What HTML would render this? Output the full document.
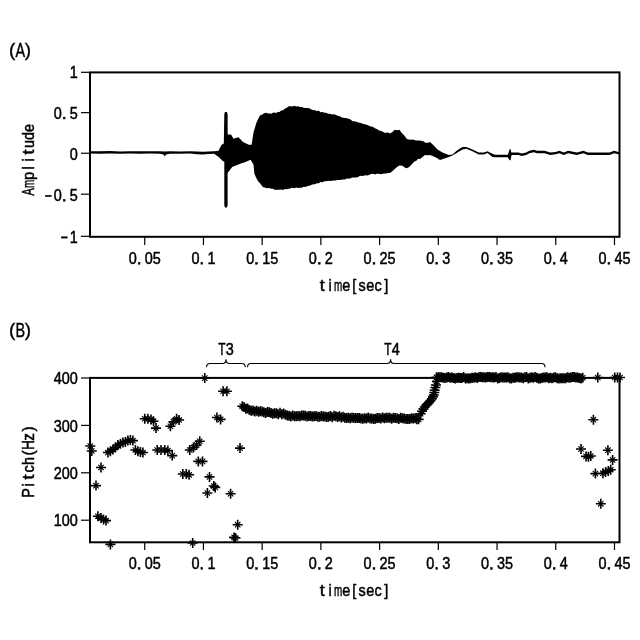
<!DOCTYPE html><html><head><meta charset="utf-8"><style>html,body{margin:0;padding:0;background:#fff;}svg{display:block;will-change:transform;}text{font-family:"Liberation Sans",sans-serif;fill:#000;}</style></head><body>
<svg width="640" height="640" viewBox="0 0 640 640">
<rect width="640" height="640" fill="#fff"/>
<g font-size="20" stroke="#000" stroke-width="0.4"><text transform="translate(12.2,55.699999999999996) scale(0.95,0.92)" text-anchor="middle">(</text><text transform="translate(20.4,57.3) scale(0.72,1.03)" text-anchor="middle">A</text><text transform="translate(27.8,55.699999999999996) scale(0.95,0.92)" text-anchor="middle">)</text></g>
<g font-size="20" stroke="#000" stroke-width="0.4"><text transform="translate(12.2,335.7) scale(0.95,0.92)" text-anchor="middle">(</text><text transform="translate(20.4,337.3) scale(0.72,1.03)" text-anchor="middle">B</text><text transform="translate(27.8,335.7) scale(0.95,0.92)" text-anchor="middle">)</text></g>
<rect x="90.0" y="72.4" width="529.5" height="164.4" fill="none" stroke="#000" stroke-width="2"/>
<polygon fill="#000" points="89.50,151.20 100.00,151.30 110.00,151.10 120.00,151.40 130.00,151.20 140.00,151.30 150.00,151.20 160.00,151.30 164.70,151.60 170.00,151.30 180.00,151.40 190.00,151.20 197.00,151.60 203.00,151.80 208.00,151.40 214.00,151.30 218.50,150.80 221.60,144.70 223.80,143.50 224.30,114.50 224.90,112.00 226.90,112.00 227.60,114.50 227.70,134.40 231.00,134.40 233.75,139.00 235.50,138.00 238.50,137.20 243.00,141.90 248.75,144.70 251.60,144.70 253.50,132.50 256.30,123.00 258.15,118.99 260.00,115.60 261.87,114.72 263.73,113.58 265.60,112.80 267.48,113.24 269.37,113.58 271.25,113.75 272.88,112.86 274.51,112.43 276.14,113.04 277.77,111.98 279.40,111.90 281.27,110.45 283.14,110.23 285.01,108.47 286.88,107.78 288.75,106.25 290.62,106.22 292.49,106.42 294.36,105.83 296.23,106.41 298.10,106.25 299.98,107.06 301.86,107.02 303.74,107.65 305.62,107.94 307.50,108.10 309.38,108.16 311.26,109.57 313.14,109.95 315.02,110.18 316.90,111.00 318.77,110.80 320.64,112.16 322.51,112.05 324.38,112.70 326.25,112.80 328.12,113.63 329.99,113.82 331.86,114.45 333.73,114.19 335.60,114.70 337.48,115.72 339.36,115.95 341.24,117.20 343.12,117.79 345.00,118.00 346.88,118.17 348.76,118.86 350.64,119.61 352.52,121.16 354.40,121.25 356.27,121.74 358.14,122.54 360.01,122.72 361.88,123.54 363.75,124.10 365.62,124.52 367.49,125.04 369.36,125.88 371.23,126.44 373.10,126.90 374.98,128.33 376.86,129.00 378.74,130.23 380.62,131.09 382.50,131.60 384.38,132.66 386.25,132.76 388.12,132.62 390.00,133.50 392.35,132.03 394.70,129.70 397.05,130.26 399.40,129.70 401.75,132.99 404.10,135.30 406.90,139.10 408.77,139.41 410.65,139.81 412.52,139.43 414.40,140.00 416.27,140.60 418.13,140.49 420.00,140.60 421.67,140.98 423.33,141.34 425.00,142.50 426.67,142.72 428.33,142.69 430.00,141.90 433.75,145.60 437.50,149.40 442.50,152.50 448.75,155.00 452.50,154.40 457.50,150.00 462.50,146.90 466.25,146.90 472.50,149.40 478.75,152.50 483.75,152.50 487.50,151.25 492.50,153.75 495.00,154.70 507.80,154.70 508.80,152.00 509.60,149.30 510.60,149.30 511.30,152.60 512.00,152.50 518.40,152.50 521.70,153.60 526.10,152.50 529.40,150.80 533.80,149.80 537.00,150.80 544.70,150.80 550.20,152.50 555.60,151.90 559.40,150.80 563.75,152.50 568.10,150.80 576.90,152.50 583.40,150.80 587.80,152.50 609.70,152.50 614.00,150.80 618.50,151.90 619.00,151.90 619.00,154.30 618.50,154.30 614.00,153.20 609.70,154.90 587.80,154.90 583.40,153.20 576.90,154.90 568.10,153.20 563.75,154.90 559.40,153.20 555.60,154.30 550.20,154.90 544.70,153.20 537.00,153.20 533.80,152.20 529.40,153.20 526.10,154.90 521.70,156.00 518.40,154.90 512.00,154.90 511.30,156.00 510.60,160.20 509.60,160.20 508.80,159.00 507.80,157.20 495.00,157.20 492.50,156.90 487.50,153.10 483.75,154.40 478.75,154.40 472.50,151.25 466.25,148.75 462.50,149.40 457.50,152.50 452.50,155.60 448.75,156.90 443.75,158.75 440.00,160.00 435.00,156.90 430.00,155.00 428.33,155.16 426.67,155.22 425.00,155.00 423.33,156.22 421.67,157.72 420.00,159.00 418.20,158.80 416.32,160.75 414.45,161.54 412.57,163.54 410.70,165.40 408.80,167.33 406.90,168.20 405.05,167.82 403.20,166.30 401.30,165.56 399.40,165.40 397.05,167.00 394.70,169.10 392.35,171.18 390.00,172.90 388.12,172.91 386.25,173.39 384.38,173.42 382.50,173.80 380.62,174.33 378.74,173.64 376.86,173.66 374.98,174.38 373.10,173.80 371.23,174.08 369.36,174.66 367.49,175.53 365.62,175.26 363.75,175.70 361.88,176.03 360.01,175.85 358.14,177.02 356.27,177.45 354.40,177.50 352.52,177.62 350.64,178.34 348.76,178.63 346.88,178.49 345.00,179.40 343.12,179.46 341.24,179.73 339.36,179.89 337.48,180.03 335.60,180.40 333.73,180.56 331.86,180.81 329.99,181.09 328.12,180.64 326.25,181.30 324.38,181.13 322.51,182.28 320.64,182.00 318.77,183.37 316.90,183.20 315.02,184.17 313.14,184.19 311.26,184.99 309.38,185.80 307.50,186.00 305.62,186.94 303.74,186.64 301.86,187.65 299.98,187.75 298.10,187.90 296.23,187.48 294.36,188.25 292.49,187.86 290.62,188.16 288.75,188.80 286.88,189.19 285.01,188.92 283.14,189.92 281.27,189.42 279.40,189.75 276.90,189.75 275.02,189.98 273.13,188.67 271.25,188.80 269.56,188.10 267.87,188.29 266.18,188.08 264.49,187.39 262.80,186.90 260.45,183.74 258.10,181.30 256.25,178.04 254.40,173.80 253.50,164.40 250.60,159.70 244.20,162.60 240.80,163.40 236.50,165.20 232.20,166.90 227.60,172.90 227.60,205.50 226.90,207.50 225.00,207.50 224.30,205.50 224.30,161.70 222.50,160.70 218.75,156.90 214.00,153.80 208.00,154.00 203.00,154.60 197.00,154.20 190.00,153.60 180.00,153.80 170.00,153.70 166.00,154.40 164.70,156.40 163.50,154.50 160.00,153.80 150.00,153.60 140.00,153.70 130.00,153.60 120.00,153.80 110.00,153.50 100.00,153.70 89.50,153.60"/>
<line x1="81" y1="72.3" x2="89" y2="72.3" stroke="#000" stroke-width="1.2"/>
<g font-size="17" stroke="#000" stroke-width="0.5"><text transform="translate(73.80,77.8) scale(0.85,1)" text-anchor="middle">1</text></g>
<line x1="81" y1="112.65" x2="89" y2="112.65" stroke="#000" stroke-width="1.2"/>
<g font-size="17" stroke="#000" stroke-width="0.5"><text transform="translate(57.80,118.95) scale(0.85,1)" text-anchor="middle">0</text><rect x="63.30" y="117.15" width="1.8" height="1.8" fill="#000"/><text transform="translate(73.80,118.95) scale(0.85,1)" text-anchor="middle">5</text></g>
<line x1="81" y1="153.25" x2="89" y2="153.25" stroke="#000" stroke-width="1.2"/>
<g font-size="17" stroke="#000" stroke-width="0.5"><text transform="translate(73.80,160.35) scale(0.85,1)" text-anchor="middle">0</text></g>
<line x1="81" y1="194.2" x2="89" y2="194.2" stroke="#000" stroke-width="1.2"/>
<g font-size="17" stroke="#000" stroke-width="0.5"><rect x="45.50" y="195.30" width="5.8" height="1.3" fill="#000"/><text transform="translate(57.80,201.2) scale(0.85,1)" text-anchor="middle">0</text><rect x="63.30" y="199.40" width="1.8" height="1.8" fill="#000"/><text transform="translate(73.80,201.2) scale(0.85,1)" text-anchor="middle">5</text></g>
<line x1="81" y1="236.3" x2="89" y2="236.3" stroke="#000" stroke-width="1.2"/>
<g font-size="17" stroke="#000" stroke-width="0.5"><rect x="61.50" y="236.80" width="5.8" height="1.3" fill="#000"/><text transform="translate(73.80,242.7) scale(0.85,1)" text-anchor="middle">1</text></g>
<line x1="144.72" y1="236.8" x2="144.72" y2="245" stroke="#000" stroke-width="1.2"/>
<g font-size="17" stroke="#000" stroke-width="0.5"><text transform="translate(132.72,264.2) scale(0.85,1)" text-anchor="middle">0</text><rect x="138.22" y="262.40" width="1.8" height="1.8" fill="#000"/><text transform="translate(148.72,264.2) scale(0.85,1)" text-anchor="middle">0</text><text transform="translate(156.72,264.2) scale(0.85,1)" text-anchor="middle">5</text></g>
<line x1="203.44" y1="236.8" x2="203.44" y2="245" stroke="#000" stroke-width="1.2"/>
<g font-size="17" stroke="#000" stroke-width="0.5"><text transform="translate(195.44,264.2) scale(0.85,1)" text-anchor="middle">0</text><rect x="200.94" y="262.40" width="1.8" height="1.8" fill="#000"/><text transform="translate(211.44,264.2) scale(0.85,1)" text-anchor="middle">1</text></g>
<line x1="262.16" y1="236.8" x2="262.16" y2="245" stroke="#000" stroke-width="1.2"/>
<g font-size="17" stroke="#000" stroke-width="0.5"><text transform="translate(250.16,264.2) scale(0.85,1)" text-anchor="middle">0</text><rect x="255.66" y="262.40" width="1.8" height="1.8" fill="#000"/><text transform="translate(266.16,264.2) scale(0.85,1)" text-anchor="middle">1</text><text transform="translate(274.16,264.2) scale(0.85,1)" text-anchor="middle">5</text></g>
<line x1="320.88" y1="236.8" x2="320.88" y2="245" stroke="#000" stroke-width="1.2"/>
<g font-size="17" stroke="#000" stroke-width="0.5"><text transform="translate(312.88,264.2) scale(0.85,1)" text-anchor="middle">0</text><rect x="318.38" y="262.40" width="1.8" height="1.8" fill="#000"/><text transform="translate(328.88,264.2) scale(0.85,1)" text-anchor="middle">2</text></g>
<line x1="379.60" y1="236.8" x2="379.60" y2="245" stroke="#000" stroke-width="1.2"/>
<g font-size="17" stroke="#000" stroke-width="0.5"><text transform="translate(367.60,264.2) scale(0.85,1)" text-anchor="middle">0</text><rect x="373.10" y="262.40" width="1.8" height="1.8" fill="#000"/><text transform="translate(383.60,264.2) scale(0.85,1)" text-anchor="middle">2</text><text transform="translate(391.60,264.2) scale(0.85,1)" text-anchor="middle">5</text></g>
<line x1="438.32" y1="236.8" x2="438.32" y2="245" stroke="#000" stroke-width="1.2"/>
<g font-size="17" stroke="#000" stroke-width="0.5"><text transform="translate(430.32,264.2) scale(0.85,1)" text-anchor="middle">0</text><rect x="435.82" y="262.40" width="1.8" height="1.8" fill="#000"/><text transform="translate(446.32,264.2) scale(0.85,1)" text-anchor="middle">3</text></g>
<line x1="497.04" y1="236.8" x2="497.04" y2="245" stroke="#000" stroke-width="1.2"/>
<g font-size="17" stroke="#000" stroke-width="0.5"><text transform="translate(485.04,264.2) scale(0.85,1)" text-anchor="middle">0</text><rect x="490.54" y="262.40" width="1.8" height="1.8" fill="#000"/><text transform="translate(501.04,264.2) scale(0.85,1)" text-anchor="middle">3</text><text transform="translate(509.04,264.2) scale(0.85,1)" text-anchor="middle">5</text></g>
<line x1="555.76" y1="236.8" x2="555.76" y2="245" stroke="#000" stroke-width="1.2"/>
<g font-size="17" stroke="#000" stroke-width="0.5"><text transform="translate(547.76,264.2) scale(0.85,1)" text-anchor="middle">0</text><rect x="553.26" y="262.40" width="1.8" height="1.8" fill="#000"/><text transform="translate(563.76,264.2) scale(0.85,1)" text-anchor="middle">4</text></g>
<line x1="614.48" y1="236.8" x2="614.48" y2="245" stroke="#000" stroke-width="1.2"/>
<g font-size="17" stroke="#000" stroke-width="0.5"><text transform="translate(602.48,264.2) scale(0.85,1)" text-anchor="middle">0</text><rect x="607.98" y="262.40" width="1.8" height="1.8" fill="#000"/><text transform="translate(618.48,264.2) scale(0.85,1)" text-anchor="middle">4</text><text transform="translate(626.48,264.2) scale(0.85,1)" text-anchor="middle">5</text></g>
<g font-size="17" stroke="#000" stroke-width="0.5"><text transform="translate(322.20,290.5) scale(1.05,1)" text-anchor="middle">t</text><text transform="translate(330.20,290.5) scale(0.85,1)" text-anchor="middle">i</text><text transform="translate(338.20,290.5) scale(0.58,1)" text-anchor="middle">m</text><text transform="translate(346.20,290.5) scale(0.85,1)" text-anchor="middle">e</text><text transform="translate(354.20,290.5) scale(0.85,1)" text-anchor="middle">[</text><text transform="translate(362.20,290.5) scale(0.85,1)" text-anchor="middle">s</text><text transform="translate(370.20,290.5) scale(0.85,1)" text-anchor="middle">e</text><text transform="translate(378.20,290.5) scale(0.85,1)" text-anchor="middle">c</text><text transform="translate(386.20,290.5) scale(0.85,1)" text-anchor="middle">]</text></g>
<g transform="translate(33.5,160) rotate(-90)"><g font-size="17" stroke="#000" stroke-width="0.5"><text transform="translate(-32.00,0) scale(0.64,1)" text-anchor="middle">A</text><text transform="translate(-24.00,0) scale(0.58,1)" text-anchor="middle">m</text><text transform="translate(-16.00,0) scale(0.85,1)" text-anchor="middle">p</text><text transform="translate(-8.00,0) scale(0.85,1)" text-anchor="middle">l</text><text transform="translate(0.00,0) scale(0.85,1)" text-anchor="middle">i</text><text transform="translate(8.00,0) scale(1.05,1)" text-anchor="middle">t</text><text transform="translate(16.00,0) scale(0.85,1)" text-anchor="middle">u</text><text transform="translate(24.00,0) scale(0.85,1)" text-anchor="middle">d</text><text transform="translate(32.00,0) scale(0.85,1)" text-anchor="middle">e</text></g></g>
<rect x="90.0" y="377.9" width="529.5" height="164.39999999999998" fill="none" stroke="#000" stroke-width="2"/>
<line x1="81" y1="378.0" x2="89" y2="378.0" stroke="#000" stroke-width="1.2"/>
<g font-size="17" stroke="#000" stroke-width="0.5"><text transform="translate(57.80,384.2) scale(0.85,1)" text-anchor="middle">4</text><text transform="translate(65.80,384.2) scale(0.85,1)" text-anchor="middle">0</text><text transform="translate(73.80,384.2) scale(0.85,1)" text-anchor="middle">0</text></g>
<line x1="81" y1="425.4" x2="89" y2="425.4" stroke="#000" stroke-width="1.2"/>
<g font-size="17" stroke="#000" stroke-width="0.5"><text transform="translate(57.80,431.59999999999997) scale(0.85,1)" text-anchor="middle">3</text><text transform="translate(65.80,431.59999999999997) scale(0.85,1)" text-anchor="middle">0</text><text transform="translate(73.80,431.59999999999997) scale(0.85,1)" text-anchor="middle">0</text></g>
<line x1="81" y1="472.8" x2="89" y2="472.8" stroke="#000" stroke-width="1.2"/>
<g font-size="17" stroke="#000" stroke-width="0.5"><text transform="translate(57.80,479.0) scale(0.85,1)" text-anchor="middle">2</text><text transform="translate(65.80,479.0) scale(0.85,1)" text-anchor="middle">0</text><text transform="translate(73.80,479.0) scale(0.85,1)" text-anchor="middle">0</text></g>
<line x1="81" y1="520.2" x2="89" y2="520.2" stroke="#000" stroke-width="1.2"/>
<g font-size="17" stroke="#000" stroke-width="0.5"><text transform="translate(57.80,526.4000000000001) scale(0.85,1)" text-anchor="middle">1</text><text transform="translate(65.80,526.4000000000001) scale(0.85,1)" text-anchor="middle">0</text><text transform="translate(73.80,526.4000000000001) scale(0.85,1)" text-anchor="middle">0</text></g>
<line x1="144.72" y1="542.3" x2="144.72" y2="550" stroke="#000" stroke-width="1.2"/>
<g font-size="17" stroke="#000" stroke-width="0.5"><text transform="translate(132.72,569.4) scale(0.85,1)" text-anchor="middle">0</text><rect x="138.22" y="567.60" width="1.8" height="1.8" fill="#000"/><text transform="translate(148.72,569.4) scale(0.85,1)" text-anchor="middle">0</text><text transform="translate(156.72,569.4) scale(0.85,1)" text-anchor="middle">5</text></g>
<line x1="203.44" y1="542.3" x2="203.44" y2="550" stroke="#000" stroke-width="1.2"/>
<g font-size="17" stroke="#000" stroke-width="0.5"><text transform="translate(195.44,569.4) scale(0.85,1)" text-anchor="middle">0</text><rect x="200.94" y="567.60" width="1.8" height="1.8" fill="#000"/><text transform="translate(211.44,569.4) scale(0.85,1)" text-anchor="middle">1</text></g>
<line x1="262.16" y1="542.3" x2="262.16" y2="550" stroke="#000" stroke-width="1.2"/>
<g font-size="17" stroke="#000" stroke-width="0.5"><text transform="translate(250.16,569.4) scale(0.85,1)" text-anchor="middle">0</text><rect x="255.66" y="567.60" width="1.8" height="1.8" fill="#000"/><text transform="translate(266.16,569.4) scale(0.85,1)" text-anchor="middle">1</text><text transform="translate(274.16,569.4) scale(0.85,1)" text-anchor="middle">5</text></g>
<line x1="320.88" y1="542.3" x2="320.88" y2="550" stroke="#000" stroke-width="1.2"/>
<g font-size="17" stroke="#000" stroke-width="0.5"><text transform="translate(312.88,569.4) scale(0.85,1)" text-anchor="middle">0</text><rect x="318.38" y="567.60" width="1.8" height="1.8" fill="#000"/><text transform="translate(328.88,569.4) scale(0.85,1)" text-anchor="middle">2</text></g>
<line x1="379.60" y1="542.3" x2="379.60" y2="550" stroke="#000" stroke-width="1.2"/>
<g font-size="17" stroke="#000" stroke-width="0.5"><text transform="translate(367.60,569.4) scale(0.85,1)" text-anchor="middle">0</text><rect x="373.10" y="567.60" width="1.8" height="1.8" fill="#000"/><text transform="translate(383.60,569.4) scale(0.85,1)" text-anchor="middle">2</text><text transform="translate(391.60,569.4) scale(0.85,1)" text-anchor="middle">5</text></g>
<line x1="438.32" y1="542.3" x2="438.32" y2="550" stroke="#000" stroke-width="1.2"/>
<g font-size="17" stroke="#000" stroke-width="0.5"><text transform="translate(430.32,569.4) scale(0.85,1)" text-anchor="middle">0</text><rect x="435.82" y="567.60" width="1.8" height="1.8" fill="#000"/><text transform="translate(446.32,569.4) scale(0.85,1)" text-anchor="middle">3</text></g>
<line x1="497.04" y1="542.3" x2="497.04" y2="550" stroke="#000" stroke-width="1.2"/>
<g font-size="17" stroke="#000" stroke-width="0.5"><text transform="translate(485.04,569.4) scale(0.85,1)" text-anchor="middle">0</text><rect x="490.54" y="567.60" width="1.8" height="1.8" fill="#000"/><text transform="translate(501.04,569.4) scale(0.85,1)" text-anchor="middle">3</text><text transform="translate(509.04,569.4) scale(0.85,1)" text-anchor="middle">5</text></g>
<line x1="555.76" y1="542.3" x2="555.76" y2="550" stroke="#000" stroke-width="1.2"/>
<g font-size="17" stroke="#000" stroke-width="0.5"><text transform="translate(547.76,569.4) scale(0.85,1)" text-anchor="middle">0</text><rect x="553.26" y="567.60" width="1.8" height="1.8" fill="#000"/><text transform="translate(563.76,569.4) scale(0.85,1)" text-anchor="middle">4</text></g>
<line x1="614.48" y1="542.3" x2="614.48" y2="550" stroke="#000" stroke-width="1.2"/>
<g font-size="17" stroke="#000" stroke-width="0.5"><text transform="translate(602.48,569.4) scale(0.85,1)" text-anchor="middle">0</text><rect x="607.98" y="567.60" width="1.8" height="1.8" fill="#000"/><text transform="translate(618.48,569.4) scale(0.85,1)" text-anchor="middle">4</text><text transform="translate(626.48,569.4) scale(0.85,1)" text-anchor="middle">5</text></g>
<g font-size="17" stroke="#000" stroke-width="0.5"><text transform="translate(322.20,595.6) scale(1.05,1)" text-anchor="middle">t</text><text transform="translate(330.20,595.6) scale(0.85,1)" text-anchor="middle">i</text><text transform="translate(338.20,595.6) scale(0.58,1)" text-anchor="middle">m</text><text transform="translate(346.20,595.6) scale(0.85,1)" text-anchor="middle">e</text><text transform="translate(354.20,595.6) scale(0.85,1)" text-anchor="middle">[</text><text transform="translate(362.20,595.6) scale(0.85,1)" text-anchor="middle">s</text><text transform="translate(370.20,595.6) scale(0.85,1)" text-anchor="middle">e</text><text transform="translate(378.20,595.6) scale(0.85,1)" text-anchor="middle">c</text><text transform="translate(386.20,595.6) scale(0.85,1)" text-anchor="middle">]</text></g>
<g transform="translate(33.7,461) rotate(-90)"><g font-size="17" stroke="#000" stroke-width="0.5"><text transform="translate(-32.00,0) scale(0.85,1)" text-anchor="middle">P</text><text transform="translate(-24.00,0) scale(0.85,1)" text-anchor="middle">i</text><text transform="translate(-16.00,0) scale(1.05,1)" text-anchor="middle">t</text><text transform="translate(-8.00,0) scale(0.85,1)" text-anchor="middle">c</text><text transform="translate(0.00,0) scale(0.85,1)" text-anchor="middle">h</text><text transform="translate(8.00,0) scale(0.9,1)" text-anchor="middle">(</text><text transform="translate(16.00,0) scale(0.78,1)" text-anchor="middle">H</text><text transform="translate(24.00,0) scale(0.9,1)" text-anchor="middle">z</text><text transform="translate(32.00,0) scale(0.9,1)" text-anchor="middle">)</text></g></g>
<path d="M85.30 446.00h10.00M90.30 441.00v10.00M86.80 451.00h10.00M91.80 446.00v10.00M96.00 467.50h10.00M101.00 462.50v10.00M91.00 485.60h10.00M96.00 480.60v10.00M92.90 516.25h10.00M97.90 511.25v10.00M96.00 518.10h10.00M101.00 513.10v10.00M98.50 519.40h10.00M103.50 514.40v10.00M101.00 520.60h10.00M106.00 515.60v10.00M105.40 544.40h10.00M110.40 539.40v10.00M102.90 452.50h10.00M107.90 447.50v10.00M105.40 451.25h10.00M110.40 446.25v10.00M107.90 449.40h10.00M112.90 444.40v10.00M110.40 447.50h10.00M115.40 442.50v10.00M112.90 445.00h10.00M117.90 440.00v10.00M115.40 443.75h10.00M120.40 438.75v10.00M117.90 442.50h10.00M122.90 437.50v10.00M120.40 441.90h10.00M125.40 436.90v10.00M122.90 440.60h10.00M127.90 435.60v10.00M125.40 440.00h10.00M130.40 435.00v10.00M127.90 440.60h10.00M132.90 435.60v10.00M130.40 450.00h10.00M135.40 445.00v10.00M132.90 451.25h10.00M137.90 446.25v10.00M135.40 451.90h10.00M140.40 446.90v10.00M137.90 452.50h10.00M142.90 447.50v10.00M139.75 418.75h10.00M144.75 413.75v10.00M142.90 418.75h10.00M147.90 413.75v10.00M146.00 419.40h10.00M151.00 414.40v10.00M148.50 421.25h10.00M153.50 416.25v10.00M151.00 428.10h10.00M156.00 423.10v10.00M152.25 450.00h10.00M157.25 445.00v10.00M156.00 450.00h10.00M161.00 445.00v10.00M159.75 450.00h10.00M164.75 445.00v10.00M162.90 450.60h10.00M167.90 445.60v10.00M167.25 455.60h10.00M172.25 450.60v10.00M165.40 426.25h10.00M170.40 421.25v10.00M168.50 421.90h10.00M173.50 416.90v10.00M171.60 418.75h10.00M176.60 413.75v10.00M174.10 420.00h10.00M179.10 415.00v10.00M177.80 474.00h10.00M182.80 469.00v10.00M181.30 474.00h10.00M186.30 469.00v10.00M184.10 474.80h10.00M189.10 469.80v10.00M184.75 450.00h10.00M189.75 445.00v10.00M188.50 447.50h10.00M193.50 442.50v10.00M191.60 445.00h10.00M196.60 440.00v10.00M194.75 441.25h10.00M199.75 436.25v10.00M193.30 461.40h10.00M198.30 456.40v10.00M197.50 461.40h10.00M202.50 456.40v10.00M199.75 378.10h10.00M204.75 373.10v10.00M204.50 476.90h10.00M209.50 471.90v10.00M208.75 486.00h10.00M213.75 481.00v10.00M210.20 487.40h10.00M215.20 482.40v10.00M202.40 493.00h10.00M207.40 488.00v10.00M211.90 417.50h10.00M216.90 412.50v10.00M215.60 419.40h10.00M220.60 414.40v10.00M218.10 391.25h10.00M223.10 386.25v10.00M221.90 391.25h10.00M226.90 386.25v10.00M225.60 493.75h10.00M230.60 488.75v10.00M232.70 524.70h10.00M237.70 519.70v10.00M229.10 537.40h10.00M234.10 532.40v10.00M230.50 538.00h10.00M235.50 533.00v10.00M187.70 543.00h10.00M192.70 538.00v10.00M235.00 448.10h10.00M240.00 443.10v10.00M415.60 413.75h10.00M420.60 408.75v10.00M417.00 411.20h10.00M422.00 406.20v10.00M418.40 409.00h10.00M423.40 404.00v10.00M419.80 407.00h10.00M424.80 402.00v10.00M421.25 405.30h10.00M426.25 400.30v10.00M422.60 403.80h10.00M427.60 398.80v10.00M424.00 402.50h10.00M429.00 397.50v10.00M425.50 400.70h10.00M430.50 395.70v10.00M426.90 398.75h10.00M431.90 393.75v10.00M428.00 396.80h10.00M433.00 391.80v10.00M428.75 395.00h10.00M433.75 390.00v10.00M429.30 392.50h10.00M434.30 387.50v10.00M429.70 390.30h10.00M434.70 385.30v10.00M430.40 387.50h10.00M435.40 382.50v10.00M431.00 385.00h10.00M436.00 380.00v10.00M432.00 381.40h10.00M437.00 376.40v10.00M592.80 377.50h10.00M597.80 372.50v10.00M609.70 377.50h10.00M614.70 372.50v10.00M612.50 377.50h10.00M617.50 372.50v10.00M615.00 377.50h10.00M620.00 372.50v10.00M576.00 449.00h10.00M581.00 444.00v10.00M581.10 456.40h10.00M586.10 451.40v10.00M583.40 456.80h10.00M588.40 451.80v10.00M585.75 456.00h10.00M590.75 451.00v10.00M602.90 450.20h10.00M607.90 445.20v10.00M607.60 459.90h10.00M612.60 454.90v10.00M590.40 473.60h10.00M595.40 468.60v10.00M597.90 473.20h10.00M602.90 468.20v10.00M600.60 472.00h10.00M605.60 467.00v10.00M603.30 470.90h10.00M608.30 465.90v10.00M605.70 469.70h10.00M610.70 464.70v10.00M595.80 503.80h10.00M600.80 498.80v10.00M588.40 419.70h10.00M593.40 414.70v10.00M237.25 406.32h10.00M242.25 401.32v10.00M239.05 406.95h10.00M244.05 401.95v10.00M240.85 408.67h10.00M245.85 403.67v10.00M242.65 408.55h10.00M247.65 403.55v10.00M244.45 410.10h10.00M249.45 405.10v10.00M246.25 410.63h10.00M251.25 405.63v10.00M248.05 410.46h10.00M253.05 405.46v10.00M249.85 411.39h10.00M254.85 406.39v10.00M251.65 410.84h10.00M256.65 405.84v10.00M253.45 411.68h10.00M258.45 406.68v10.00M255.25 411.31h10.00M260.25 406.31v10.00M257.05 411.55h10.00M262.05 406.55v10.00M258.85 412.22h10.00M263.85 407.22v10.00M260.65 413.01h10.00M265.65 408.01v10.00M262.45 412.03h10.00M267.45 407.03v10.00M264.25 412.33h10.00M269.25 407.33v10.00M266.05 413.11h10.00M271.05 408.11v10.00M267.85 413.77h10.00M272.85 408.77v10.00M269.65 413.32h10.00M274.65 408.32v10.00M271.45 413.16h10.00M276.45 408.16v10.00M273.25 414.21h10.00M278.25 409.21v10.00M275.05 412.84h10.00M280.05 407.84v10.00M276.85 414.26h10.00M281.85 409.26v10.00M278.65 413.57h10.00M283.65 408.57v10.00M280.45 414.66h10.00M285.45 409.66v10.00M282.25 415.40h10.00M287.25 410.40v10.00M284.05 415.72h10.00M289.05 410.72v10.00M285.85 416.55h10.00M290.85 411.55v10.00M287.65 415.55h10.00M292.65 410.55v10.00M289.45 416.21h10.00M294.45 411.21v10.00M291.25 416.32h10.00M296.25 411.32v10.00M293.05 415.91h10.00M298.05 410.91v10.00M294.85 416.20h10.00M299.85 411.20v10.00M296.65 415.45h10.00M301.65 410.45v10.00M298.45 415.46h10.00M303.45 410.46v10.00M300.25 415.71h10.00M305.25 410.71v10.00M302.05 416.49h10.00M307.05 411.49v10.00M303.85 416.10h10.00M308.85 411.10v10.00M305.65 415.93h10.00M310.65 410.93v10.00M307.45 416.39h10.00M312.45 411.39v10.00M309.25 416.19h10.00M314.25 411.19v10.00M311.05 415.96h10.00M316.05 410.96v10.00M312.85 416.77h10.00M317.85 411.77v10.00M314.65 416.64h10.00M319.65 411.64v10.00M316.45 415.93h10.00M321.45 410.93v10.00M318.25 416.47h10.00M323.25 411.47v10.00M320.05 416.41h10.00M325.05 411.41v10.00M321.85 416.99h10.00M326.85 411.99v10.00M323.65 416.77h10.00M328.65 411.77v10.00M325.45 416.08h10.00M330.45 411.08v10.00M327.25 417.21h10.00M332.25 412.21v10.00M329.05 415.85h10.00M334.05 410.85v10.00M330.85 416.34h10.00M335.85 411.34v10.00M332.65 416.90h10.00M337.65 411.90v10.00M334.45 416.37h10.00M339.45 411.37v10.00M336.25 417.40h10.00M341.25 412.40v10.00M338.05 416.73h10.00M343.05 411.73v10.00M339.85 417.78h10.00M344.85 412.78v10.00M341.65 417.98h10.00M346.65 412.98v10.00M343.45 417.72h10.00M348.45 412.72v10.00M345.25 418.26h10.00M350.25 413.26v10.00M347.05 417.40h10.00M352.05 412.40v10.00M348.85 418.08h10.00M353.85 413.08v10.00M350.65 417.99h10.00M355.65 412.99v10.00M352.45 418.04h10.00M357.45 413.04v10.00M354.25 417.91h10.00M359.25 412.91v10.00M356.05 418.59h10.00M361.05 413.59v10.00M357.85 418.83h10.00M362.85 413.83v10.00M359.65 418.15h10.00M364.65 413.15v10.00M361.45 418.47h10.00M366.45 413.47v10.00M363.25 417.52h10.00M368.25 412.52v10.00M365.05 418.55h10.00M370.05 413.55v10.00M366.85 418.47h10.00M371.85 413.47v10.00M368.65 419.04h10.00M373.65 414.04v10.00M370.45 418.77h10.00M375.45 413.77v10.00M372.25 417.93h10.00M377.25 412.93v10.00M374.05 418.10h10.00M379.05 413.10v10.00M375.85 418.56h10.00M380.85 413.56v10.00M377.65 417.54h10.00M382.65 412.54v10.00M379.45 418.25h10.00M384.45 413.25v10.00M381.25 417.79h10.00M386.25 412.79v10.00M383.05 417.72h10.00M388.05 412.72v10.00M384.85 417.64h10.00M389.85 412.64v10.00M386.65 418.78h10.00M391.65 413.78v10.00M388.45 417.77h10.00M393.45 412.77v10.00M390.25 417.97h10.00M395.25 412.97v10.00M392.05 418.21h10.00M397.05 413.21v10.00M393.85 418.99h10.00M398.85 413.99v10.00M395.65 417.74h10.00M400.65 412.74v10.00M397.45 418.34h10.00M402.45 413.34v10.00M399.25 418.52h10.00M404.25 413.52v10.00M401.05 419.08h10.00M406.05 414.08v10.00M402.85 418.99h10.00M407.85 413.99v10.00M404.65 419.08h10.00M409.65 414.08v10.00M406.45 418.17h10.00M411.45 413.17v10.00M408.25 418.40h10.00M413.25 413.40v10.00M410.05 418.33h10.00M415.05 413.33v10.00M411.85 419.19h10.00M416.85 414.19v10.00M413.65 419.33h10.00M418.65 414.33v10.00M431.50 377.24h10.00M436.50 372.24v10.00M433.20 377.28h10.00M438.20 372.28v10.00M434.90 377.37h10.00M439.90 372.37v10.00M436.60 377.37h10.00M441.60 372.37v10.00M438.30 377.78h10.00M443.30 372.78v10.00M440.00 377.94h10.00M445.00 372.94v10.00M441.70 377.42h10.00M446.70 372.42v10.00M443.40 377.01h10.00M448.40 372.01v10.00M445.10 377.67h10.00M450.10 372.67v10.00M446.80 377.59h10.00M451.80 372.59v10.00M448.50 377.91h10.00M453.50 372.91v10.00M450.20 378.52h10.00M455.20 373.52v10.00M451.90 378.10h10.00M456.90 373.10v10.00M453.60 377.82h10.00M458.60 372.82v10.00M455.30 377.99h10.00M460.30 372.99v10.00M457.00 378.08h10.00M462.00 373.08v10.00M458.70 377.09h10.00M463.70 372.09v10.00M460.40 378.44h10.00M465.40 373.44v10.00M462.10 378.25h10.00M467.10 373.25v10.00M463.80 378.40h10.00M468.80 373.40v10.00M465.50 378.28h10.00M470.50 373.28v10.00M467.20 377.63h10.00M472.20 372.63v10.00M468.90 377.64h10.00M473.90 372.64v10.00M470.60 377.17h10.00M475.60 372.17v10.00M472.30 378.01h10.00M477.30 373.01v10.00M474.00 377.10h10.00M479.00 372.10v10.00M475.70 377.11h10.00M480.70 372.11v10.00M477.40 377.33h10.00M482.40 372.33v10.00M479.10 377.26h10.00M484.10 372.26v10.00M480.80 377.54h10.00M485.80 372.54v10.00M482.50 377.08h10.00M487.50 372.08v10.00M484.20 377.00h10.00M489.20 372.00v10.00M485.90 377.24h10.00M490.90 372.24v10.00M487.60 377.16h10.00M492.60 372.16v10.00M489.30 377.58h10.00M494.30 372.58v10.00M491.00 377.04h10.00M496.00 372.04v10.00M492.70 378.40h10.00M497.70 373.40v10.00M494.40 377.98h10.00M499.40 372.98v10.00M496.10 377.24h10.00M501.10 372.24v10.00M497.80 377.40h10.00M502.80 372.40v10.00M499.50 377.56h10.00M504.50 372.56v10.00M501.20 377.58h10.00M506.20 372.58v10.00M502.90 377.20h10.00M507.90 372.20v10.00M504.60 378.36h10.00M509.60 373.36v10.00M506.30 378.59h10.00M511.30 373.59v10.00M508.00 377.75h10.00M513.00 372.75v10.00M509.70 377.77h10.00M514.70 372.77v10.00M511.40 377.14h10.00M516.40 372.14v10.00M513.10 377.16h10.00M518.10 372.16v10.00M514.80 377.55h10.00M519.80 372.55v10.00M516.50 377.42h10.00M521.50 372.42v10.00M518.20 378.33h10.00M523.20 373.33v10.00M519.90 377.26h10.00M524.90 372.26v10.00M521.60 377.04h10.00M526.60 372.04v10.00M523.30 378.52h10.00M528.30 373.52v10.00M525.00 377.85h10.00M530.00 372.85v10.00M526.70 377.23h10.00M531.70 372.23v10.00M528.40 377.87h10.00M533.40 372.87v10.00M530.10 377.04h10.00M535.10 372.04v10.00M531.80 377.84h10.00M536.80 372.84v10.00M533.50 378.57h10.00M538.50 373.57v10.00M535.20 378.38h10.00M540.20 373.38v10.00M536.90 378.11h10.00M541.90 373.11v10.00M538.60 377.42h10.00M543.60 372.42v10.00M540.30 377.59h10.00M545.30 372.59v10.00M542.00 377.27h10.00M547.00 372.27v10.00M543.70 378.24h10.00M548.70 373.24v10.00M545.40 377.85h10.00M550.40 372.85v10.00M547.10 378.25h10.00M552.10 373.25v10.00M548.80 377.53h10.00M553.80 372.53v10.00M550.50 377.36h10.00M555.50 372.36v10.00M552.20 378.30h10.00M557.20 373.30v10.00M553.90 378.58h10.00M558.90 373.58v10.00M555.60 378.36h10.00M560.60 373.36v10.00M557.30 378.29h10.00M562.30 373.29v10.00M559.00 378.31h10.00M564.00 373.31v10.00M560.70 378.18h10.00M565.70 373.18v10.00M562.40 377.36h10.00M567.40 372.36v10.00M564.10 377.83h10.00M569.10 372.83v10.00M565.80 377.57h10.00M570.80 372.57v10.00M567.50 377.05h10.00M572.50 372.05v10.00M569.20 377.04h10.00M574.20 372.04v10.00M570.90 377.45h10.00M575.90 372.45v10.00M572.60 377.41h10.00M577.60 372.41v10.00M574.30 378.11h10.00M579.30 373.11v10.00M576.00 378.53h10.00M581.00 373.53v10.00M577.70 377.72h10.00M582.70 372.72v10.00" fill="none" stroke="#000" stroke-width="1.6"/>
<path d="M87.60 443.30l5.40 5.40M87.60 448.70l5.40 -5.40M89.10 448.30l5.40 5.40M89.10 453.70l5.40 -5.40M98.30 464.80l5.40 5.40M98.30 470.20l5.40 -5.40M93.30 482.90l5.40 5.40M93.30 488.30l5.40 -5.40M95.20 513.55l5.40 5.40M95.20 518.95l5.40 -5.40M98.30 515.40l5.40 5.40M98.30 520.80l5.40 -5.40M100.80 516.70l5.40 5.40M100.80 522.10l5.40 -5.40M103.30 517.90l5.40 5.40M103.30 523.30l5.40 -5.40M107.70 541.70l5.40 5.40M107.70 547.10l5.40 -5.40M105.20 449.80l5.40 5.40M105.20 455.20l5.40 -5.40M107.70 448.55l5.40 5.40M107.70 453.95l5.40 -5.40M110.20 446.70l5.40 5.40M110.20 452.10l5.40 -5.40M112.70 444.80l5.40 5.40M112.70 450.20l5.40 -5.40M115.20 442.30l5.40 5.40M115.20 447.70l5.40 -5.40M117.70 441.05l5.40 5.40M117.70 446.45l5.40 -5.40M120.20 439.80l5.40 5.40M120.20 445.20l5.40 -5.40M122.70 439.20l5.40 5.40M122.70 444.60l5.40 -5.40M125.20 437.90l5.40 5.40M125.20 443.30l5.40 -5.40M127.70 437.30l5.40 5.40M127.70 442.70l5.40 -5.40M130.20 437.90l5.40 5.40M130.20 443.30l5.40 -5.40M132.70 447.30l5.40 5.40M132.70 452.70l5.40 -5.40M135.20 448.55l5.40 5.40M135.20 453.95l5.40 -5.40M137.70 449.20l5.40 5.40M137.70 454.60l5.40 -5.40M140.20 449.80l5.40 5.40M140.20 455.20l5.40 -5.40M142.05 416.05l5.40 5.40M142.05 421.45l5.40 -5.40M145.20 416.05l5.40 5.40M145.20 421.45l5.40 -5.40M148.30 416.70l5.40 5.40M148.30 422.10l5.40 -5.40M150.80 418.55l5.40 5.40M150.80 423.95l5.40 -5.40M153.30 425.40l5.40 5.40M153.30 430.80l5.40 -5.40M154.55 447.30l5.40 5.40M154.55 452.70l5.40 -5.40M158.30 447.30l5.40 5.40M158.30 452.70l5.40 -5.40M162.05 447.30l5.40 5.40M162.05 452.70l5.40 -5.40M165.20 447.90l5.40 5.40M165.20 453.30l5.40 -5.40M169.55 452.90l5.40 5.40M169.55 458.30l5.40 -5.40M167.70 423.55l5.40 5.40M167.70 428.95l5.40 -5.40M170.80 419.20l5.40 5.40M170.80 424.60l5.40 -5.40M173.90 416.05l5.40 5.40M173.90 421.45l5.40 -5.40M176.40 417.30l5.40 5.40M176.40 422.70l5.40 -5.40M180.10 471.30l5.40 5.40M180.10 476.70l5.40 -5.40M183.60 471.30l5.40 5.40M183.60 476.70l5.40 -5.40M186.40 472.10l5.40 5.40M186.40 477.50l5.40 -5.40M187.05 447.30l5.40 5.40M187.05 452.70l5.40 -5.40M190.80 444.80l5.40 5.40M190.80 450.20l5.40 -5.40M193.90 442.30l5.40 5.40M193.90 447.70l5.40 -5.40M197.05 438.55l5.40 5.40M197.05 443.95l5.40 -5.40M195.60 458.70l5.40 5.40M195.60 464.10l5.40 -5.40M199.80 458.70l5.40 5.40M199.80 464.10l5.40 -5.40M202.05 375.40l5.40 5.40M202.05 380.80l5.40 -5.40M206.80 474.20l5.40 5.40M206.80 479.60l5.40 -5.40M211.05 483.30l5.40 5.40M211.05 488.70l5.40 -5.40M212.50 484.70l5.40 5.40M212.50 490.10l5.40 -5.40M204.70 490.30l5.40 5.40M204.70 495.70l5.40 -5.40M214.20 414.80l5.40 5.40M214.20 420.20l5.40 -5.40M217.90 416.70l5.40 5.40M217.90 422.10l5.40 -5.40M220.40 388.55l5.40 5.40M220.40 393.95l5.40 -5.40M224.20 388.55l5.40 5.40M224.20 393.95l5.40 -5.40M227.90 491.05l5.40 5.40M227.90 496.45l5.40 -5.40M235.00 522.00l5.40 5.40M235.00 527.40l5.40 -5.40M231.40 534.70l5.40 5.40M231.40 540.10l5.40 -5.40M232.80 535.30l5.40 5.40M232.80 540.70l5.40 -5.40M190.00 540.30l5.40 5.40M190.00 545.70l5.40 -5.40M237.30 445.40l5.40 5.40M237.30 450.80l5.40 -5.40M417.90 411.05l5.40 5.40M417.90 416.45l5.40 -5.40M419.30 408.50l5.40 5.40M419.30 413.90l5.40 -5.40M420.70 406.30l5.40 5.40M420.70 411.70l5.40 -5.40M422.10 404.30l5.40 5.40M422.10 409.70l5.40 -5.40M423.55 402.60l5.40 5.40M423.55 408.00l5.40 -5.40M424.90 401.10l5.40 5.40M424.90 406.50l5.40 -5.40M426.30 399.80l5.40 5.40M426.30 405.20l5.40 -5.40M427.80 398.00l5.40 5.40M427.80 403.40l5.40 -5.40M429.20 396.05l5.40 5.40M429.20 401.45l5.40 -5.40M430.30 394.10l5.40 5.40M430.30 399.50l5.40 -5.40M431.05 392.30l5.40 5.40M431.05 397.70l5.40 -5.40M431.60 389.80l5.40 5.40M431.60 395.20l5.40 -5.40M432.00 387.60l5.40 5.40M432.00 393.00l5.40 -5.40M432.70 384.80l5.40 5.40M432.70 390.20l5.40 -5.40M433.30 382.30l5.40 5.40M433.30 387.70l5.40 -5.40M434.30 378.70l5.40 5.40M434.30 384.10l5.40 -5.40M595.10 374.80l5.40 5.40M595.10 380.20l5.40 -5.40M612.00 374.80l5.40 5.40M612.00 380.20l5.40 -5.40M614.80 374.80l5.40 5.40M614.80 380.20l5.40 -5.40M617.30 374.80l5.40 5.40M617.30 380.20l5.40 -5.40M578.30 446.30l5.40 5.40M578.30 451.70l5.40 -5.40M583.40 453.70l5.40 5.40M583.40 459.10l5.40 -5.40M585.70 454.10l5.40 5.40M585.70 459.50l5.40 -5.40M588.05 453.30l5.40 5.40M588.05 458.70l5.40 -5.40M605.20 447.50l5.40 5.40M605.20 452.90l5.40 -5.40M609.90 457.20l5.40 5.40M609.90 462.60l5.40 -5.40M592.70 470.90l5.40 5.40M592.70 476.30l5.40 -5.40M600.20 470.50l5.40 5.40M600.20 475.90l5.40 -5.40M602.90 469.30l5.40 5.40M602.90 474.70l5.40 -5.40M605.60 468.20l5.40 5.40M605.60 473.60l5.40 -5.40M608.00 467.00l5.40 5.40M608.00 472.40l5.40 -5.40M598.10 501.10l5.40 5.40M598.10 506.50l5.40 -5.40M590.70 417.00l5.40 5.40M590.70 422.40l5.40 -5.40M239.55 403.62l5.40 5.40M239.55 409.02l5.40 -5.40M241.35 404.25l5.40 5.40M241.35 409.65l5.40 -5.40M243.15 405.97l5.40 5.40M243.15 411.37l5.40 -5.40M244.95 405.85l5.40 5.40M244.95 411.25l5.40 -5.40M246.75 407.40l5.40 5.40M246.75 412.80l5.40 -5.40M248.55 407.93l5.40 5.40M248.55 413.33l5.40 -5.40M250.35 407.76l5.40 5.40M250.35 413.16l5.40 -5.40M252.15 408.69l5.40 5.40M252.15 414.09l5.40 -5.40M253.95 408.14l5.40 5.40M253.95 413.54l5.40 -5.40M255.75 408.98l5.40 5.40M255.75 414.38l5.40 -5.40M257.55 408.61l5.40 5.40M257.55 414.01l5.40 -5.40M259.35 408.85l5.40 5.40M259.35 414.25l5.40 -5.40M261.15 409.52l5.40 5.40M261.15 414.92l5.40 -5.40M262.95 410.31l5.40 5.40M262.95 415.71l5.40 -5.40M264.75 409.33l5.40 5.40M264.75 414.73l5.40 -5.40M266.55 409.63l5.40 5.40M266.55 415.03l5.40 -5.40M268.35 410.41l5.40 5.40M268.35 415.81l5.40 -5.40M270.15 411.07l5.40 5.40M270.15 416.47l5.40 -5.40M271.95 410.62l5.40 5.40M271.95 416.02l5.40 -5.40M273.75 410.46l5.40 5.40M273.75 415.86l5.40 -5.40M275.55 411.51l5.40 5.40M275.55 416.91l5.40 -5.40M277.35 410.14l5.40 5.40M277.35 415.54l5.40 -5.40M279.15 411.56l5.40 5.40M279.15 416.96l5.40 -5.40M280.95 410.87l5.40 5.40M280.95 416.27l5.40 -5.40M282.75 411.96l5.40 5.40M282.75 417.36l5.40 -5.40M284.55 412.70l5.40 5.40M284.55 418.10l5.40 -5.40M286.35 413.02l5.40 5.40M286.35 418.42l5.40 -5.40M288.15 413.85l5.40 5.40M288.15 419.25l5.40 -5.40M289.95 412.85l5.40 5.40M289.95 418.25l5.40 -5.40M291.75 413.51l5.40 5.40M291.75 418.91l5.40 -5.40M293.55 413.62l5.40 5.40M293.55 419.02l5.40 -5.40M295.35 413.21l5.40 5.40M295.35 418.61l5.40 -5.40M297.15 413.50l5.40 5.40M297.15 418.90l5.40 -5.40M298.95 412.75l5.40 5.40M298.95 418.15l5.40 -5.40M300.75 412.76l5.40 5.40M300.75 418.16l5.40 -5.40M302.55 413.01l5.40 5.40M302.55 418.41l5.40 -5.40M304.35 413.79l5.40 5.40M304.35 419.19l5.40 -5.40M306.15 413.40l5.40 5.40M306.15 418.80l5.40 -5.40M307.95 413.23l5.40 5.40M307.95 418.63l5.40 -5.40M309.75 413.69l5.40 5.40M309.75 419.09l5.40 -5.40M311.55 413.49l5.40 5.40M311.55 418.89l5.40 -5.40M313.35 413.26l5.40 5.40M313.35 418.66l5.40 -5.40M315.15 414.07l5.40 5.40M315.15 419.47l5.40 -5.40M316.95 413.94l5.40 5.40M316.95 419.34l5.40 -5.40M318.75 413.23l5.40 5.40M318.75 418.63l5.40 -5.40M320.55 413.77l5.40 5.40M320.55 419.17l5.40 -5.40M322.35 413.71l5.40 5.40M322.35 419.11l5.40 -5.40M324.15 414.29l5.40 5.40M324.15 419.69l5.40 -5.40M325.95 414.07l5.40 5.40M325.95 419.47l5.40 -5.40M327.75 413.38l5.40 5.40M327.75 418.78l5.40 -5.40M329.55 414.51l5.40 5.40M329.55 419.91l5.40 -5.40M331.35 413.15l5.40 5.40M331.35 418.55l5.40 -5.40M333.15 413.64l5.40 5.40M333.15 419.04l5.40 -5.40M334.95 414.20l5.40 5.40M334.95 419.60l5.40 -5.40M336.75 413.67l5.40 5.40M336.75 419.07l5.40 -5.40M338.55 414.70l5.40 5.40M338.55 420.10l5.40 -5.40M340.35 414.03l5.40 5.40M340.35 419.43l5.40 -5.40M342.15 415.08l5.40 5.40M342.15 420.48l5.40 -5.40M343.95 415.28l5.40 5.40M343.95 420.68l5.40 -5.40M345.75 415.02l5.40 5.40M345.75 420.42l5.40 -5.40M347.55 415.56l5.40 5.40M347.55 420.96l5.40 -5.40M349.35 414.70l5.40 5.40M349.35 420.10l5.40 -5.40M351.15 415.38l5.40 5.40M351.15 420.78l5.40 -5.40M352.95 415.29l5.40 5.40M352.95 420.69l5.40 -5.40M354.75 415.34l5.40 5.40M354.75 420.74l5.40 -5.40M356.55 415.21l5.40 5.40M356.55 420.61l5.40 -5.40M358.35 415.89l5.40 5.40M358.35 421.29l5.40 -5.40M360.15 416.13l5.40 5.40M360.15 421.53l5.40 -5.40M361.95 415.45l5.40 5.40M361.95 420.85l5.40 -5.40M363.75 415.77l5.40 5.40M363.75 421.17l5.40 -5.40M365.55 414.82l5.40 5.40M365.55 420.22l5.40 -5.40M367.35 415.85l5.40 5.40M367.35 421.25l5.40 -5.40M369.15 415.77l5.40 5.40M369.15 421.17l5.40 -5.40M370.95 416.34l5.40 5.40M370.95 421.74l5.40 -5.40M372.75 416.07l5.40 5.40M372.75 421.47l5.40 -5.40M374.55 415.23l5.40 5.40M374.55 420.63l5.40 -5.40M376.35 415.40l5.40 5.40M376.35 420.80l5.40 -5.40M378.15 415.86l5.40 5.40M378.15 421.26l5.40 -5.40M379.95 414.84l5.40 5.40M379.95 420.24l5.40 -5.40M381.75 415.55l5.40 5.40M381.75 420.95l5.40 -5.40M383.55 415.09l5.40 5.40M383.55 420.49l5.40 -5.40M385.35 415.02l5.40 5.40M385.35 420.42l5.40 -5.40M387.15 414.94l5.40 5.40M387.15 420.34l5.40 -5.40M388.95 416.08l5.40 5.40M388.95 421.48l5.40 -5.40M390.75 415.07l5.40 5.40M390.75 420.47l5.40 -5.40M392.55 415.27l5.40 5.40M392.55 420.67l5.40 -5.40M394.35 415.51l5.40 5.40M394.35 420.91l5.40 -5.40M396.15 416.29l5.40 5.40M396.15 421.69l5.40 -5.40M397.95 415.04l5.40 5.40M397.95 420.44l5.40 -5.40M399.75 415.64l5.40 5.40M399.75 421.04l5.40 -5.40M401.55 415.82l5.40 5.40M401.55 421.22l5.40 -5.40M403.35 416.38l5.40 5.40M403.35 421.78l5.40 -5.40M405.15 416.29l5.40 5.40M405.15 421.69l5.40 -5.40M406.95 416.38l5.40 5.40M406.95 421.78l5.40 -5.40M408.75 415.47l5.40 5.40M408.75 420.87l5.40 -5.40M410.55 415.70l5.40 5.40M410.55 421.10l5.40 -5.40M412.35 415.63l5.40 5.40M412.35 421.03l5.40 -5.40M414.15 416.49l5.40 5.40M414.15 421.89l5.40 -5.40M415.95 416.63l5.40 5.40M415.95 422.03l5.40 -5.40M433.80 374.54l5.40 5.40M433.80 379.94l5.40 -5.40M435.50 374.58l5.40 5.40M435.50 379.98l5.40 -5.40M437.20 374.67l5.40 5.40M437.20 380.07l5.40 -5.40M438.90 374.67l5.40 5.40M438.90 380.07l5.40 -5.40M440.60 375.08l5.40 5.40M440.60 380.48l5.40 -5.40M442.30 375.24l5.40 5.40M442.30 380.64l5.40 -5.40M444.00 374.72l5.40 5.40M444.00 380.12l5.40 -5.40M445.70 374.31l5.40 5.40M445.70 379.71l5.40 -5.40M447.40 374.97l5.40 5.40M447.40 380.37l5.40 -5.40M449.10 374.89l5.40 5.40M449.10 380.29l5.40 -5.40M450.80 375.21l5.40 5.40M450.80 380.61l5.40 -5.40M452.50 375.82l5.40 5.40M452.50 381.22l5.40 -5.40M454.20 375.40l5.40 5.40M454.20 380.80l5.40 -5.40M455.90 375.12l5.40 5.40M455.90 380.52l5.40 -5.40M457.60 375.29l5.40 5.40M457.60 380.69l5.40 -5.40M459.30 375.38l5.40 5.40M459.30 380.78l5.40 -5.40M461.00 374.39l5.40 5.40M461.00 379.79l5.40 -5.40M462.70 375.74l5.40 5.40M462.70 381.14l5.40 -5.40M464.40 375.55l5.40 5.40M464.40 380.95l5.40 -5.40M466.10 375.70l5.40 5.40M466.10 381.10l5.40 -5.40M467.80 375.58l5.40 5.40M467.80 380.98l5.40 -5.40M469.50 374.93l5.40 5.40M469.50 380.33l5.40 -5.40M471.20 374.94l5.40 5.40M471.20 380.34l5.40 -5.40M472.90 374.47l5.40 5.40M472.90 379.87l5.40 -5.40M474.60 375.31l5.40 5.40M474.60 380.71l5.40 -5.40M476.30 374.40l5.40 5.40M476.30 379.80l5.40 -5.40M478.00 374.41l5.40 5.40M478.00 379.81l5.40 -5.40M479.70 374.63l5.40 5.40M479.70 380.03l5.40 -5.40M481.40 374.56l5.40 5.40M481.40 379.96l5.40 -5.40M483.10 374.84l5.40 5.40M483.10 380.24l5.40 -5.40M484.80 374.38l5.40 5.40M484.80 379.78l5.40 -5.40M486.50 374.30l5.40 5.40M486.50 379.70l5.40 -5.40M488.20 374.54l5.40 5.40M488.20 379.94l5.40 -5.40M489.90 374.46l5.40 5.40M489.90 379.86l5.40 -5.40M491.60 374.88l5.40 5.40M491.60 380.28l5.40 -5.40M493.30 374.34l5.40 5.40M493.30 379.74l5.40 -5.40M495.00 375.70l5.40 5.40M495.00 381.10l5.40 -5.40M496.70 375.28l5.40 5.40M496.70 380.68l5.40 -5.40M498.40 374.54l5.40 5.40M498.40 379.94l5.40 -5.40M500.10 374.70l5.40 5.40M500.10 380.10l5.40 -5.40M501.80 374.86l5.40 5.40M501.80 380.26l5.40 -5.40M503.50 374.88l5.40 5.40M503.50 380.28l5.40 -5.40M505.20 374.50l5.40 5.40M505.20 379.90l5.40 -5.40M506.90 375.66l5.40 5.40M506.90 381.06l5.40 -5.40M508.60 375.89l5.40 5.40M508.60 381.29l5.40 -5.40M510.30 375.05l5.40 5.40M510.30 380.45l5.40 -5.40M512.00 375.07l5.40 5.40M512.00 380.47l5.40 -5.40M513.70 374.44l5.40 5.40M513.70 379.84l5.40 -5.40M515.40 374.46l5.40 5.40M515.40 379.86l5.40 -5.40M517.10 374.85l5.40 5.40M517.10 380.25l5.40 -5.40M518.80 374.72l5.40 5.40M518.80 380.12l5.40 -5.40M520.50 375.63l5.40 5.40M520.50 381.03l5.40 -5.40M522.20 374.56l5.40 5.40M522.20 379.96l5.40 -5.40M523.90 374.34l5.40 5.40M523.90 379.74l5.40 -5.40M525.60 375.82l5.40 5.40M525.60 381.22l5.40 -5.40M527.30 375.15l5.40 5.40M527.30 380.55l5.40 -5.40M529.00 374.53l5.40 5.40M529.00 379.93l5.40 -5.40M530.70 375.17l5.40 5.40M530.70 380.57l5.40 -5.40M532.40 374.34l5.40 5.40M532.40 379.74l5.40 -5.40M534.10 375.14l5.40 5.40M534.10 380.54l5.40 -5.40M535.80 375.87l5.40 5.40M535.80 381.27l5.40 -5.40M537.50 375.68l5.40 5.40M537.50 381.08l5.40 -5.40M539.20 375.41l5.40 5.40M539.20 380.81l5.40 -5.40M540.90 374.72l5.40 5.40M540.90 380.12l5.40 -5.40M542.60 374.89l5.40 5.40M542.60 380.29l5.40 -5.40M544.30 374.57l5.40 5.40M544.30 379.97l5.40 -5.40M546.00 375.54l5.40 5.40M546.00 380.94l5.40 -5.40M547.70 375.15l5.40 5.40M547.70 380.55l5.40 -5.40M549.40 375.55l5.40 5.40M549.40 380.95l5.40 -5.40M551.10 374.83l5.40 5.40M551.10 380.23l5.40 -5.40M552.80 374.66l5.40 5.40M552.80 380.06l5.40 -5.40M554.50 375.60l5.40 5.40M554.50 381.00l5.40 -5.40M556.20 375.88l5.40 5.40M556.20 381.28l5.40 -5.40M557.90 375.66l5.40 5.40M557.90 381.06l5.40 -5.40M559.60 375.59l5.40 5.40M559.60 380.99l5.40 -5.40M561.30 375.61l5.40 5.40M561.30 381.01l5.40 -5.40M563.00 375.48l5.40 5.40M563.00 380.88l5.40 -5.40M564.70 374.66l5.40 5.40M564.70 380.06l5.40 -5.40M566.40 375.13l5.40 5.40M566.40 380.53l5.40 -5.40M568.10 374.87l5.40 5.40M568.10 380.27l5.40 -5.40M569.80 374.35l5.40 5.40M569.80 379.75l5.40 -5.40M571.50 374.34l5.40 5.40M571.50 379.74l5.40 -5.40M573.20 374.75l5.40 5.40M573.20 380.15l5.40 -5.40M574.90 374.71l5.40 5.40M574.90 380.11l5.40 -5.40M576.60 375.41l5.40 5.40M576.60 380.81l5.40 -5.40M578.30 375.83l5.40 5.40M578.30 381.23l5.40 -5.40M580.00 375.02l5.40 5.40M580.00 380.42l5.40 -5.40" fill="none" stroke="#000" stroke-width="1.1"/>
<path d="M206.5 367.3 Q206.5 363.5 210.0 363.5 L222.5 363.5 Q226.0 363.5 226.0 359.2 Q226.0 363.5 229.5 363.5 L241.8 363.5 Q245.3 363.5 245.3 367.3" fill="none" stroke="#000" stroke-width="1.15"/>
<path d="M247.5 367.3 Q247.5 363.5 251.0 363.5 L387.1 363.5 Q390.6 363.5 390.6 359.2 Q390.6 363.5 394.1 363.5 L541.5 363.5 Q545.0 363.5 545.0 367.3" fill="none" stroke="#000" stroke-width="1.15"/>
<g font-size="17" stroke="#000" stroke-width="0.5"><text transform="translate(221.80,354.8) scale(0.7,1)" text-anchor="middle">T</text><text transform="translate(229.80,354.8) scale(0.85,1)" text-anchor="middle">3</text></g>
<g font-size="17" stroke="#000" stroke-width="0.5"><text transform="translate(387.80,354.8) scale(0.7,1)" text-anchor="middle">T</text><text transform="translate(395.80,354.8) scale(0.85,1)" text-anchor="middle">4</text></g>
</svg></body></html>
